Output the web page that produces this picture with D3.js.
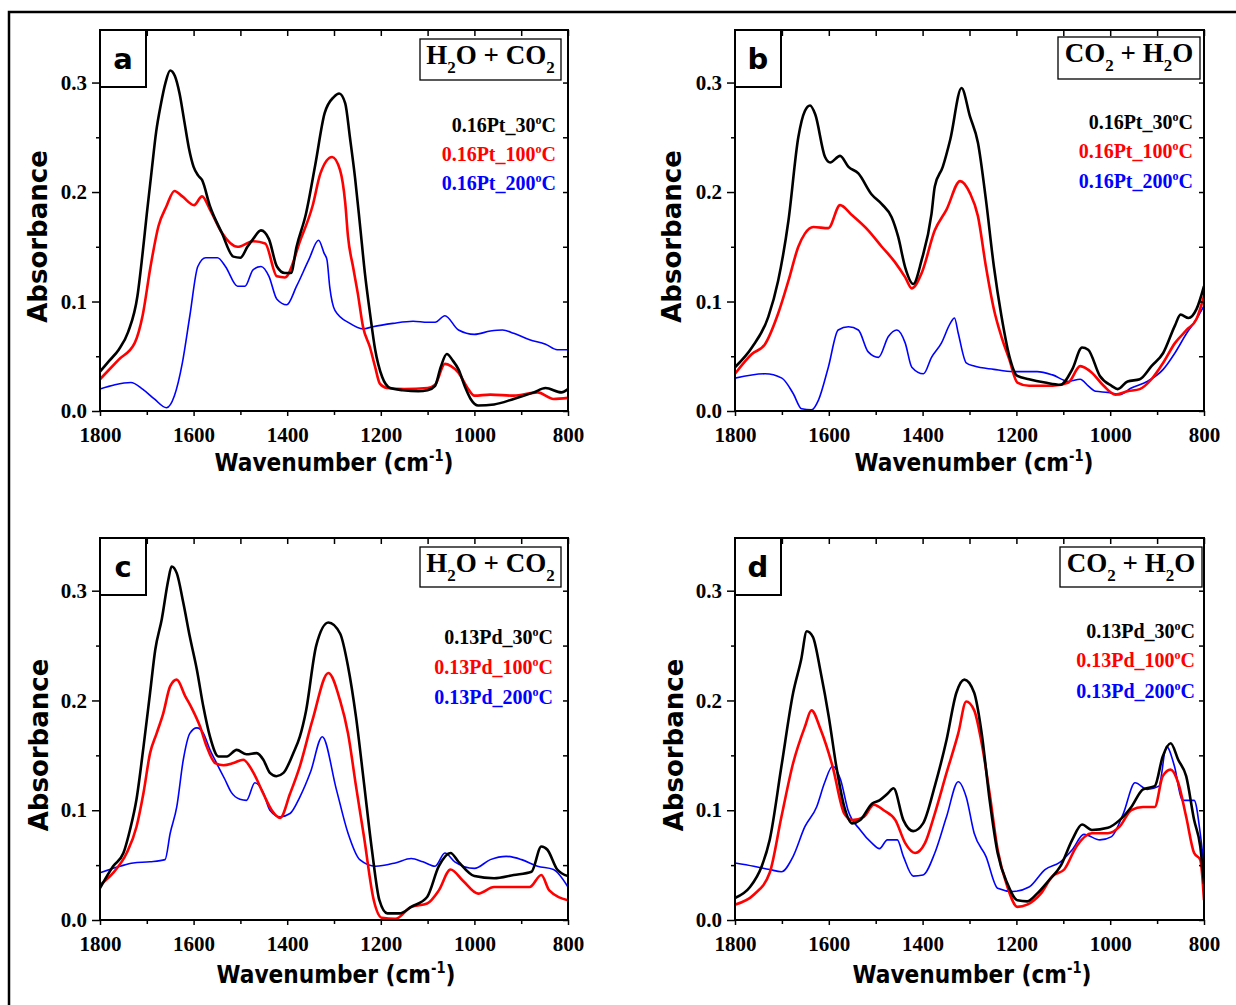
<!DOCTYPE html>
<html>
<head>
<meta charset="utf-8">
<script src="https://cdn.jsdelivr.net/npm/d3@7"></script>
<style>
body { margin: 0; background: #fff; }
</style>
</head>
<body>
<div id="chart"></div>
<script>
// wavenumber ticks
const xMajor = [1800, 1600, 1400, 1200, 1000, 800];
const xMinor = [1700, 1500, 1300, 1100, 900];
const yMajor = [0.0, 0.1, 0.2, 0.3];
const yMinor = [0.05, 0.15, 0.25];

// [wavenumber, absorbance]
const aBlack = [[1800,0.036],[1780,0.046],[1760,0.056],[1740,0.072],[1720,0.105],[1710,0.14],[1700,0.18],[1690,0.218],[1680,0.255],[1670,0.28],[1660,0.300],[1650,0.311],[1640,0.306],[1630,0.29],[1620,0.265],[1610,0.24],[1600,0.223],[1590,0.215],[1582,0.211],[1565,0.187],[1540,0.163],[1515,0.141],[1500,0.140],[1485,0.150],[1473,0.157],[1456,0.165],[1439,0.157],[1422,0.132],[1405,0.126],[1392,0.126],[1380,0.150],[1360,0.180],[1340,0.225],[1320,0.272],[1300,0.287],[1289,0.290],[1276,0.281],[1266,0.25],[1255,0.213],[1244,0.168],[1234,0.126],[1223,0.089],[1212,0.056],[1197,0.031],[1180,0.021],[1153,0.019],[1120,0.018],[1100,0.019],[1084,0.023],[1072,0.040],[1059,0.052],[1046,0.046],[1034,0.038],[1020,0.022],[1008,0.011],[992,0.005],[958,0.006],[916,0.011],[873,0.017],[848,0.021],[814,0.017],[800,0.020]];
const aRed = [[1800,0.029],[1760,0.047],[1726,0.062],[1709,0.087],[1692,0.132],[1675,0.169],[1658,0.187],[1641,0.201],[1624,0.196],[1599,0.188],[1582,0.196],[1565,0.184],[1540,0.163],[1506,0.150],[1473,0.155],[1447,0.153],[1422,0.123],[1405,0.122],[1371,0.157],[1346,0.187],[1329,0.217],[1304,0.232],[1287,0.22],[1276,0.19],[1270,0.159],[1259,0.131],[1249,0.107],[1238,0.077],[1223,0.058],[1212,0.04],[1202,0.025],[1187,0.021],[1150,0.020],[1100,0.021],[1084,0.024],[1063,0.043],[1050,0.041],[1034,0.035],[1016,0.022],[1000,0.014],[966,0.015],[916,0.014],[865,0.017],[831,0.011],[800,0.012]];
const aBlue = [[1800,0.020],[1768,0.024],[1734,0.026],[1709,0.020],[1684,0.011],[1658,0.003],[1641,0.014],[1624,0.044],[1608,0.087],[1591,0.132],[1574,0.140],[1549,0.140],[1532,0.132],[1506,0.114],[1490,0.114],[1473,0.129],[1456,0.132],[1439,0.123],[1422,0.102],[1401,0.097],[1380,0.114],[1354,0.138],[1333,0.156],[1321,0.144],[1315,0.138],[1309,0.113],[1298,0.092],[1266,0.08],[1238,0.075],[1217,0.077],[1174,0.08],[1131,0.082],[1100,0.081],[1084,0.081],[1063,0.087],[1034,0.074],[1000,0.070],[966,0.073],[940,0.074],[916,0.071],[882,0.065],[848,0.061],[823,0.056],[800,0.056]];

const bBlack = [[1800,0.040],[1764,0.058],[1729,0.086],[1708,0.119],[1686,0.174],[1665,0.25],[1651,0.274],[1640,0.279],[1629,0.271],[1608,0.232],[1597,0.227],[1576,0.233],[1558,0.223],[1537,0.217],[1509,0.198],[1487,0.189],[1466,0.177],[1452,0.159],[1437,0.131],[1420,0.116],[1402,0.138],[1381,0.180],[1374,0.205],[1357,0.223],[1341,0.248],[1317,0.295],[1299,0.269],[1282,0.245],[1265,0.193],[1248,0.132],[1232,0.087],[1215,0.050],[1198,0.032],[1173,0.029],[1139,0.026],[1106,0.024],[1081,0.038],[1060,0.058],[1047,0.056],[1022,0.032],[997,0.023],[984,0.020],[963,0.027],[937,0.029],[912,0.041],[887,0.053],[862,0.078],[850,0.088],[833,0.085],[816,0.093],[800,0.114]];
const bRed = [[1800,0.034],[1764,0.052],[1736,0.061],[1708,0.089],[1686,0.119],[1665,0.150],[1651,0.162],[1633,0.168],[1601,0.167],[1576,0.188],[1551,0.179],[1516,0.165],[1487,0.150],[1459,0.136],[1437,0.122],[1423,0.112],[1402,0.126],[1374,0.165],[1349,0.184],[1320,0.21],[1299,0.199],[1282,0.178],[1265,0.132],[1248,0.093],[1232,0.068],[1215,0.047],[1198,0.026],[1173,0.023],[1123,0.023],[1089,0.026],[1064,0.041],[1039,0.035],[1014,0.023],[989,0.015],[963,0.018],[937,0.020],[912,0.029],[887,0.044],[862,0.062],[837,0.074],[816,0.084],[800,0.105]];
const bBlue = [[1800,0.030],[1736,0.034],[1700,0.030],[1676,0.016],[1658,0.002],[1637,0.001],[1622,0.010],[1601,0.040],[1580,0.074],[1558,0.077],[1537,0.074],[1516,0.054],[1494,0.049],[1473,0.068],[1455,0.074],[1437,0.062],[1423,0.040],[1398,0.034],[1381,0.049],[1360,0.062],[1341,0.080],[1332,0.085],[1324,0.071],[1307,0.044],[1290,0.041],[1248,0.038],[1207,0.036],[1156,0.036],[1123,0.033],[1089,0.027],[1064,0.029],[1047,0.023],[1031,0.018],[1005,0.017],[980,0.015],[955,0.021],[921,0.027],[887,0.038],[862,0.053],[837,0.071],[816,0.084],[800,0.096]];

const cBlack = [[1800,0.029],[1772,0.049],[1750,0.061],[1736,0.082],[1722,0.110],[1707,0.158],[1693,0.207],[1682,0.246],[1668,0.274],[1654,0.310],[1647,0.322],[1636,0.316],[1622,0.289],[1608,0.258],[1593,0.228],[1579,0.194],[1565,0.167],[1547,0.149],[1529,0.149],[1508,0.155],[1487,0.151],[1465,0.152],[1451,0.146],[1437,0.134],[1423,0.131],[1408,0.134],[1387,0.152],[1373,0.167],[1360,0.19],[1338,0.250],[1312,0.271],[1287,0.261],[1270,0.231],[1253,0.185],[1236,0.125],[1219,0.064],[1203,0.018],[1186,0.006],[1160,0.006],[1135,0.012],[1101,0.021],[1076,0.049],[1051,0.061],[1034,0.053],[1000,0.040],[958,0.038],[916,0.041],[878,0.044],[857,0.067],[844,0.064],[823,0.046],[800,0.040]];
const cRed = [[1800,0.032],[1772,0.043],[1743,0.061],[1722,0.085],[1707,0.116],[1693,0.152],[1679,0.170],[1665,0.188],[1650,0.213],[1636,0.219],[1618,0.204],[1604,0.193],[1586,0.176],[1572,0.158],[1554,0.143],[1536,0.141],[1515,0.143],[1494,0.146],[1472,0.134],[1451,0.115],[1433,0.100],[1415,0.093],[1394,0.115],[1373,0.140],[1346,0.182],[1312,0.225],[1287,0.200],[1270,0.170],[1253,0.122],[1236,0.076],[1215,0.018],[1198,0.002],[1169,0.001],[1135,0.012],[1101,0.015],[1076,0.027],[1051,0.046],[1025,0.036],[992,0.024],[958,0.030],[916,0.030],[882,0.030],[857,0.041],[840,0.027],[800,0.018]];
const cBlue = [[1800,0.043],[1757,0.049],[1729,0.052],[1693,0.053],[1661,0.055],[1650,0.079],[1636,0.103],[1622,0.146],[1608,0.170],[1593,0.175],[1579,0.170],[1565,0.155],[1551,0.143],[1533,0.128],[1519,0.116],[1501,0.110],[1487,0.109],[1469,0.125],[1451,0.116],[1437,0.100],[1415,0.094],[1394,0.097],[1373,0.112],[1350,0.135],[1325,0.167],[1295,0.119],[1270,0.079],[1245,0.055],[1211,0.049],[1169,0.052],[1135,0.056],[1110,0.053],[1084,0.049],[1063,0.061],[1042,0.053],[1000,0.047],[966,0.055],[932,0.058],[899,0.055],[865,0.049],[831,0.046],[800,0.030]];

const dBlack = [[1800,0.020],[1768,0.030],[1743,0.049],[1726,0.073],[1701,0.140],[1676,0.207],[1659,0.237],[1647,0.263],[1634,0.258],[1617,0.225],[1600,0.185],[1584,0.140],[1567,0.103],[1550,0.088],[1533,0.091],[1508,0.106],[1492,0.109],[1475,0.115],[1462,0.120],[1441,0.091],[1420,0.081],[1399,0.088],[1374,0.122],[1349,0.164],[1328,0.207],[1311,0.219],[1290,0.207],[1274,0.170],[1257,0.109],[1240,0.061],[1219,0.033],[1198,0.018],[1177,0.017],[1156,0.024],[1131,0.036],[1106,0.049],[1081,0.073],[1060,0.087],[1039,0.082],[1005,0.084],[980,0.091],[955,0.103],[930,0.119],[905,0.122],[888,0.149],[871,0.161],[855,0.146],[838,0.131],[821,0.091],[808,0.067],[800,0.033]];
const dRed = [[1800,0.014],[1760,0.023],[1726,0.043],[1701,0.094],[1676,0.143],[1651,0.176],[1637,0.191],[1617,0.173],[1592,0.140],[1567,0.097],[1550,0.091],[1525,0.094],[1504,0.105],[1483,0.100],[1458,0.091],[1437,0.070],[1416,0.061],[1395,0.070],[1374,0.097],[1349,0.134],[1324,0.170],[1307,0.199],[1290,0.191],[1274,0.161],[1257,0.115],[1240,0.064],[1219,0.030],[1198,0.012],[1177,0.014],[1148,0.024],[1123,0.040],[1098,0.046],[1072,0.067],[1039,0.079],[1005,0.079],[980,0.085],[955,0.100],[930,0.103],[905,0.103],[888,0.131],[871,0.137],[855,0.125],[838,0.094],[821,0.061],[808,0.055],[800,0.018]];
const dBlue = [[1800,0.052],[1760,0.049],[1726,0.046],[1701,0.044],[1676,0.058],[1651,0.085],[1626,0.103],[1609,0.125],[1592,0.140],[1575,0.128],[1559,0.100],[1533,0.082],[1508,0.070],[1492,0.065],[1475,0.073],[1454,0.073],[1441,0.058],[1420,0.040],[1399,0.041],[1374,0.061],[1349,0.094],[1324,0.126],[1307,0.112],[1290,0.079],[1265,0.058],[1240,0.029],[1207,0.026],[1173,0.030],[1139,0.046],[1106,0.053],[1081,0.064],[1056,0.078],[1022,0.073],[997,0.076],[972,0.097],[947,0.125],[921,0.119],[896,0.122],[880,0.158],[863,0.140],[846,0.109],[821,0.109],[808,0.079],[800,0.049]];

const ptLabels = ['0.16Pt_30', '0.16Pt_100', '0.16Pt_200'];
const pdLabels = ['0.13Pd_30', '0.13Pd_100', '0.13Pd_200'];
const titleH2O = [['H', 0], ['2', 1], ['O + CO', 0], ['2', 1]];
const titleCO2 = [['CO', 0], ['2', 1], [' + H', 0], ['2', 1], ['O', 0]];
const colors = ['#000000', '#ff0000', '#0000ff'];
const widths = [2.6, 2.6, 1.6];

const W = 1236, H = 1005;
const serif = '"Liberation Serif", "Times New Roman", serif';
const sans = '"DejaVu Sans", Verdana, sans-serif';

const panels = [
  {letter: 'a', series: [aBlack, aRed, aBlue], labels: ptLabels, title: titleH2O,
   x0: 100, x1: 568, y0: 30, y1: 411, tbox: [420, 39, 141, 41], legX: 556, legY: [132, 161, 190], ttlX: 334, ttlY: 471, absX: 38},
  {letter: 'b', series: [bBlack, bRed, bBlue], labels: ptLabels, title: titleCO2,
   x0: 735, x1: 1204, y0: 30, y1: 411, tbox: [1058, 37, 142, 42], legX: 1193, legY: [129, 158, 188], ttlX: 974, ttlY: 471, absX: 672},
  {letter: 'c', series: [cBlack, cRed, cBlue], labels: pdLabels, title: titleH2O,
   x0: 100, x1: 568, y0: 538, y1: 920, tbox: [420, 547, 141, 40], legX: 553, legY: [644, 674, 704], ttlX: 336, ttlY: 983, absX: 39},
  {letter: 'd', series: [dBlack, dRed, dBlue], labels: pdLabels, title: titleCO2,
   x0: 735, x1: 1204, y0: 538, y1: 920, tbox: [1060, 547, 142, 40], legX: 1195, legY: [638, 667, 698], ttlX: 972, ttlY: 983, absX: 674}
];

const svg = d3.select('#chart').append('svg')
  .attr('width', W)
  .attr('height', H);

// outer frame (cut off at right and bottom)
svg.append('rect')
  .attr('x', 9).attr('y', 12)
  .attr('width', W + 20).attr('height', H + 20)
  .attr('fill', 'none').attr('stroke', '#000').attr('stroke-width', 2.5);

panels.forEach(function(p, i) {
  const x = d3.scaleLinear().domain([1800, 800]).range([p.x0, p.x1]);
  const y = d3.scaleLinear().domain([0, 0.348]).range([p.y1, p.y0]);
  const g = svg.append('g');

  g.append('clipPath').attr('id', 'clip' + i)
    .append('rect')
    .attr('x', p.x0).attr('y', p.y0)
    .attr('width', p.x1 - p.x0).attr('height', p.y1 - p.y0);

  const line = d3.line()
    .x(d => x(d[0]))
    .y(d => y(d[1]))
    .curve(d3.curveMonotoneX);

  // draw blue first, black last
  [2, 1, 0].forEach(function(k) {
    g.append('path')
      .datum(p.series[k])
      .attr('clip-path', 'url(#clip' + i + ')')
      .attr('fill', 'none')
      .attr('stroke', colors[k])
      .attr('stroke-width', widths[k])
      .attr('stroke-linejoin', 'round')
      .attr('d', line);
  });

  // axes
  g.append('g')
    .attr('transform', 'translate(0,' + p.y1 + ')')
    .call(d3.axisBottom(x).tickValues(xMajor).tickFormat(d3.format('d')).tickSize(5).tickPadding(11));
  g.append('g')
    .attr('transform', 'translate(0,' + p.y1 + ')')
    .call(d3.axisBottom(x).tickValues(xMinor).tickFormat('').tickSize(4));
  g.append('g')
    .attr('transform', 'translate(' + p.x0 + ',0)')
    .call(d3.axisLeft(y).tickValues(yMajor).tickFormat(d3.format('.1f')).tickSize(8).tickPadding(5));
  g.append('g')
    .attr('transform', 'translate(' + p.x0 + ',0)')
    .call(d3.axisLeft(y).tickValues(yMinor).tickFormat('').tickSize(4));
  g.append('g')
    .attr('transform', 'translate(0,' + p.y0 + ')')
    .call(d3.axisTop(x).tickValues(xMajor.concat(xMinor)).tickFormat('').tickSize(-6));
  g.append('g')
    .attr('transform', 'translate(' + p.x1 + ',0)')
    .call(d3.axisRight(y).tickValues(yMajor.concat(yMinor)).tickFormat('').tickSize(-5));

  g.selectAll('.domain').remove();
  g.selectAll('.tick line').attr('stroke', '#000').attr('stroke-width', 1.5);
  g.selectAll('.tick text')
    .attr('fill', '#000')
    .style('font-family', serif)
    .style('font-weight', 'bold')
    .style('font-size', '21px');

  g.append('rect')
    .attr('x', p.x0).attr('y', p.y0)
    .attr('width', p.x1 - p.x0).attr('height', p.y1 - p.y0)
    .attr('fill', 'none').attr('stroke', '#000').attr('stroke-width', 2);

  // panel letter box
  g.append('rect')
    .attr('x', p.x0).attr('y', p.y0)
    .attr('width', 46).attr('height', 57)
    .attr('fill', '#fff').attr('stroke', '#000').attr('stroke-width', 2);
  g.append('text')
    .text(p.letter)
    .attr('x', p.x0 + 23).attr('y', p.y0 + 39)
    .attr('text-anchor', 'middle')
    .style('font-family', sans).style('font-weight', 'bold').style('font-size', '29px');

  // gas title box
  g.append('rect')
    .attr('x', p.tbox[0]).attr('y', p.tbox[1])
    .attr('width', p.tbox[2]).attr('height', p.tbox[3])
    .attr('fill', '#fff').attr('stroke', '#000').attr('stroke-width', 1.3);
  const tt = g.append('text')
    .attr('x', p.tbox[0] + p.tbox[2] / 2).attr('y', p.tbox[1] + 25)
    .attr('text-anchor', 'middle')
    .style('font-family', serif).style('font-weight', 'bold').style('font-size', '27px');
  let shifted = false;
  p.title.forEach(function(t) {
    const sp = tt.append('tspan').text(t[0]);
    if (t[1] && !shifted) { sp.attr('dy', 9).style('font-size', '17px'); shifted = true; }
    else if (!t[1] && shifted) { sp.attr('dy', -9); shifted = false; }
  });

  // legend texts
  p.labels.forEach(function(lab, k) {
    const lt = g.append('text')
      .attr('x', p.legX).attr('y', p.legY[k])
      .attr('text-anchor', 'end')
      .attr('fill', colors[k])
      .style('font-family', serif).style('font-weight', 'bold').style('font-size', '20px');
    lt.append('tspan').text(lab);
    lt.append('tspan').text('o').attr('dy', -8).style('font-size', '12px');
    lt.append('tspan').text('C').attr('dy', 8);
  });

  // axis titles (squeezed sideways to the narrower face of the original)
  const xt = g.append('text')
    .attr('transform', 'translate(' + p.ttlX + ',' + p.ttlY + ') scale(0.87,1)')
    .attr('text-anchor', 'middle')
    .style('font-family', sans).style('font-weight', 'bold').style('font-size', '25px');
  xt.append('tspan').text('Wavenumber (cm');
  xt.append('tspan').text('-1').attr('dy', -10).style('font-size', '15px');
  xt.append('tspan').text(')').attr('dy', 10);

  g.append('text')
    .text('Absorbance')
    .attr('transform', 'translate(' + (p.absX + 9) + ',' + ((p.y0 + p.y1) / 2 + 16) + ') rotate(-90)')
    .attr('text-anchor', 'middle')
    .style('font-family', sans).style('font-weight', 'bold').style('font-size', '26px');
});
</script>
</body>
</html>
